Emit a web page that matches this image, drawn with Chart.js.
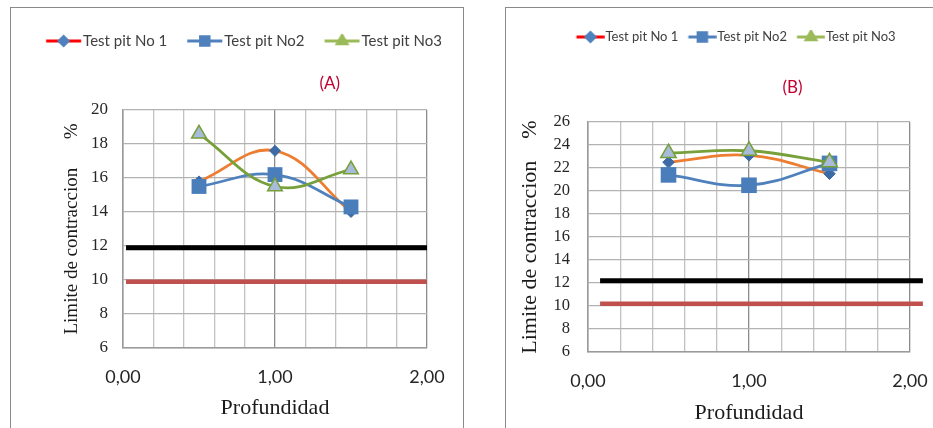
<!DOCTYPE html>
<html><head><meta charset="utf-8">
<script src="https://cdn.jsdelivr.net/npm/chart.js@4/dist/chart.umd.min.js"></script>
<style>
html,body{margin:0;padding:0;background:#fff;overflow:hidden;width:933px;height:428px;}
#wrap{position:relative;width:933px;height:428px;overflow:hidden;}
.frame{position:absolute;border:1.5px solid #8a8a8a;box-sizing:border-box;}
#fa{left:10px;top:7px;width:454px;height:440px;}
#fb{left:505px;top:7px;width:500px;height:440px;}
canvas{position:absolute;top:0;}
#ca{left:0;}
#cb{left:470px;}
</style></head><body>
<div id="wrap">
<div class="frame" id="fa"></div><div class="frame" id="fb"></div>
<canvas id="ca" width="470" height="428"></canvas>
<canvas id="cb" width="484" height="428"></canvas>
</div>
<script>
// ---------- data ----------
const seriesNames = ['Test pit No 1', 'Test pit No2', 'Test pit No3'];
const panelLabels = ['(A)', '(B)'];
const depths = [0.5, 1.0, 1.5];
const pit1A = [15.8, 17.6, 14.0];
const pit2A = [15.5, 16.2, 14.3];
const pit3A = [18.6, 15.5, 16.5];
const pit1B = [22.5, 23.1, 21.5];
const pit2B = [21.4, 20.5, 22.4];
const pit3B = [23.3, 23.5, 22.5];
const limitXA = [0.02, 2.0];
const limitXB = [0.075, 2.08];
const upperLimitA = 11.9, lowerLimitA = 9.9;
const upperLimitB = 12.2, lowerLimitB = 10.2;
const xTickValues = [0, 1, 2];
const xTickLabels = ['0,00', '1,00', '2,00'];
const yRangeA = [6, 20];
const yRangeB = [6, 26];
const xTitle = 'Profundidad';
const yTitleWords = 'Limite de contraccion';

// ---------- styles ----------
const SERIF = "'Liberation Serif', 'Times New Roman', serif";
const SANS = "Lato, 'Open Sans', sans-serif";
const chartStyles = [
  {line: '#ED7D31', point: 'rectRot', fill: '#3c6aa6', stroke: '#3c6aa6', bw: 1, r: 5.5},
  {line: '#4F81BD', point: 'rect', fill: '#4A7EBB', stroke: '#4A7EBB', bw: 0, r: 10.5},
  {line: '#77A03A', point: 'triangle', fill: '#A8BBD9', stroke: '#77A03A', bw: 1.5, r: 8.5}
];
const legendStyles = [
  {line: '#ff0000', point: 'rectRot', fill: '#4f81bd', r: 4.5},
  {line: '#4f81bd', point: 'rect', fill: '#4f81bd', r: 6},
  {line: '#9bbb59', point: 'triangle', fill: '#9bbb59', r: 5.5}
];

function legendMarker(i, W, H, x0, x1) {
  const c = document.createElement('canvas');
  c.width = W; c.height = H;
  const g = c.getContext('2d');
  const s = legendStyles[i];
  g.strokeStyle = s.line; g.lineWidth = 3;
  g.beginPath(); g.moveTo(x0, H / 2); g.lineTo(x1, H / 2); g.stroke();
  g.fillStyle = s.fill; g.strokeStyle = s.fill;
  Chart.helpers.drawPoint(g, {pointStyle: s.point, radius: s.r, borderWidth: 1, rotation: 0}, (x0 + x1) / 2, H / 2);
  return c;
}

function xLabel(v) {
  const k = xTickValues.findIndex(t => Math.abs(t - v) < 1e-6);
  return k >= 0 ? xTickLabels[k] : '';
}
function isMajor(v) { return xTickValues.some(t => Math.abs(t - v) < 1e-6); }

function pts(xs, ys) { return xs.map((x, i) => ({x: x, y: ys[i]})); }

function build(id, P) {
  const series = [P.s1, P.s2, P.s3];
  const datasets = [];
  // threshold lines
  datasets.push({data: pts(P.limX, [P.upper, P.upper]), borderColor: '#000000', borderWidth: 5,
    pointRadius: 0, tension: 0, clip: false, order: 5, borderCapStyle: 'butt'});
  datasets.push({data: pts(P.limX, [P.lower, P.lower]), borderColor: '#C0504D', borderWidth: 4.5,
    pointRadius: 0, tension: 0, clip: false, order: 5, borderCapStyle: 'butt'});
  series.forEach((s, i) => {
    const st = chartStyles[i];
    datasets.push({
      label: seriesNames[i], data: pts(depths, s), borderColor: st.line, borderWidth: 2.8,
      tension: 0.4, pointStyle: st.point, pointRadius: st.r * P.mk, pointBackgroundColor: st.fill,
      pointBorderColor: st.stroke, pointBorderWidth: st.bw, order: 3 - i
    });
  });
  const markers = [0, 1, 2].map(i => legendMarker(i, P.mW, 14, P.mx0, P.mx1));
  return new Chart(document.getElementById(id), {
    type: 'line',
    data: {datasets: datasets},
    options: {
      responsive: false, animation: false, devicePixelRatio: 1, events: [],
      layout: {padding: {top: P.padTop, left: P.padLeft, right: 0, bottom: P.padBottom}},
      plugins: {
        tooltip: {enabled: false},
        title: {display: false},
        legend: {
          display: true, position: 'top',
          labels: {
            usePointStyle: true, pointStyleWidth: P.boxW, boxHeight: P.legFont, padding: 2,
            font: {family: SANS, size: P.legFont}, color: '#404040',
            generateLabels: () => seriesNames.map((n, i) => ({
              text: n, pointStyle: markers[i], fillStyle: 'rgba(0,0,0,0)', strokeStyle: 'rgba(0,0,0,0)',
              lineWidth: 0, hidden: false, datasetIndex: i + 2, fontColor: '#404040'
            }))
          }
        }
      },
      scales: {
        x: {
          type: 'linear', position: 'bottom', min: 0, max: 2,
          afterFit: s => { s.height = P.xH; },
          ticks: {stepSize: 0.2, autoSkip: false, maxRotation: 0, padding: P.xTickPad,
            font: {family: SANS, size: 18}, color: '#262626', callback: v => xLabel(v)},
          grid: {drawTicks: false, lineWidth: 1.3,
            color: c => (c.tick && isMajor(c.tick.value)) ? '#8c8c8c' : '#c2c2c2'},
          border: {color: '#9a9a9a', width: 1.5},
          title: {display: true, text: xTitle, color: '#1a1a1a', padding: {top: 0, bottom: 0},
            font: {family: SERIF, size: 22}}
        },
        y: {
          type: 'linear', position: 'left', min: P.yRange[0], max: P.yRange[1],
          afterFit: s => { s.width = P.yW; },
          ticks: {stepSize: 2, autoSkip: false, padding: P.yTickPad,
            font: {family: SERIF, size: P.yTickFont, lineHeight: 1}, color: '#262626'},
          grid: {drawTicks: false, lineWidth: 1.3, color: '#b2b2b2'},
          border: {color: '#9a9a9a', width: 1.5},
          title: {display: true, text: yTitleWords + P.gap + '%', color: '#1a1a1a',
            padding: {top: P.yTitlePad, bottom: 0}, font: {family: SERIF, size: P.yTitleFont}}
        },
        xTop: {
          type: 'linear', position: 'top', min: 0, max: 2,
          afterFit: s => { s.height = P.topH; },
          afterBuildTicks: s => { s.ticks = [{value: P.labelAt}]; },
          grid: {display: false, drawTicks: false}, border: {display: false},
          ticks: {autoSkip: false, maxRotation: 0, padding: P.labelPad, color: '#c00030',
            font: {family: SANS, size: 17}, callback: () => P.label}
        },
        yR: {
          type: 'linear', position: 'right', min: 0, max: 1,
          afterFit: s => { s.width = P.rW; },
          grid: {display: false, drawTicks: false}, border: {display: false},
          ticks: {display: false}
        }
      }
    }
  });
}

const NB = '\u00a0';
build('ca', {
  s1: pit1A, s2: pit2A, s3: pit3A, limX: limitXA, upper: upperLimitA, lower: lowerLimitA,
  yRange: yRangeA, label: panelLabels[0], labelAt: 1.36, mk: 1,
  padTop: 31.5, padLeft: 0, padBottom: 6.8, xH: 73.2, yW: 123, rW: 43, topH: 51.5,
  labelPad: 16.3, xTickPad: 18.7, yTickPad: 15, yTickFont: 17, yTitlePad: 60.6, yTitleFont: 19,
  gap: NB.repeat(6), legFont: 15, boxW: 47.5, mW: 60, mx0: 24.25, mx1: 59.25
});
build('cb', {
  s1: pit1B, s2: pit2B, s3: pit3B, limX: limitXB, upper: upperLimitB, lower: lowerLimitB,
  yRange: yRangeB, label: panelLabels[1], labelAt: 1.27, mk: 1.05,
  padTop: 28.5, padLeft: 40, padBottom: 1.8, xH: 74.2, yW: 78, rW: 44, topH: 68.5,
  labelPad: 23.8, xTickPad: 18.2, yTickPad: 18, yTickFont: 16.5, yTitlePad: 6.8, yTitleFont: 22,
  gap: NB.repeat(4), legFont: 13, boxW: 30.5, mW: 42, mx0: 13.75, mx1: 41.75
});
</script>
</body></html>
